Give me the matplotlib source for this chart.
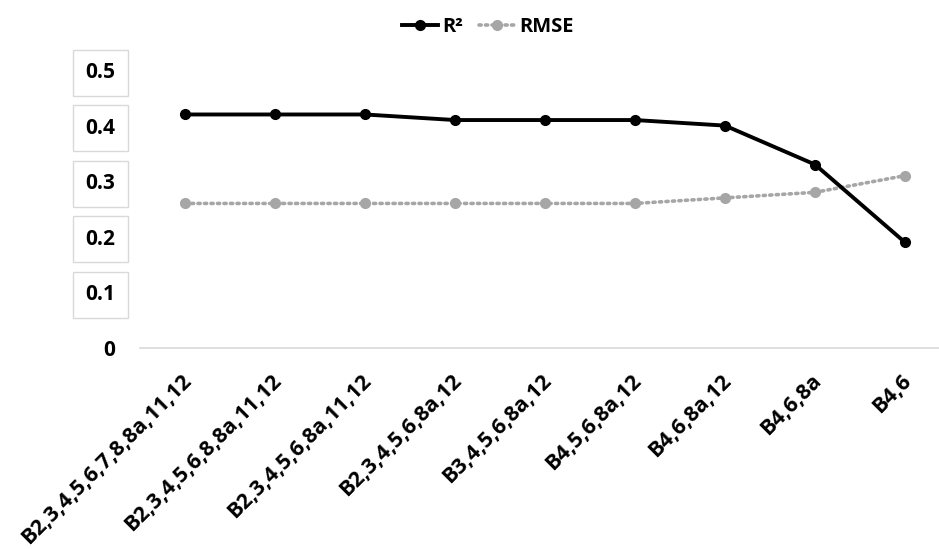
import matplotlib
matplotlib.use("Agg")
import matplotlib.pyplot as plt
from matplotlib.transforms import ScaledTranslation

plt.rcParams['font.family'] = ['Open Sans', 'DejaVu Sans']

categories = ["B2,3,4,5,6,7,8,8a,11,12", "B2,3,4,5,6,8,8a,11,12", "B2,3,4,5,6,8a,11,12",
              "B2,3,4,5,6,8a,12", "B3,4,5,6,8a,12", "B4,5,6,8a,12", "B4,6,8a,12", "B4,6,8a", "B4,6"]
r2 = [0.42, 0.42, 0.42, 0.41, 0.41, 0.41, 0.40, 0.33, 0.19]
rmse = [0.26, 0.26, 0.26, 0.26, 0.26, 0.26, 0.27, 0.28, 0.31]
yticks = [0, 0.1, 0.2, 0.3, 0.4, 0.5]
ytick_labels = ["0", "0.1", "0.2", "0.3", "0.4", "0.5"]

W, H = 939, 549
fig = plt.figure(figsize=(W/100, H/100), dpi=100)
left, right, bottom, top = 140, 950, 348, 70
ax = fig.add_axes([left/W, 1-bottom/H, (right-left)/W, (bottom-top)/H])

x = list(range(len(categories)))
ax.plot(x, rmse, color='#a6a6a6', lw=2.6, ls=(0, (0.6, 1.2)), dash_capstyle='round',
        marker='o', ms=7, label='RMSE', zorder=2)
ax.plot(x, r2, color='black', lw=2.8, marker='o', ms=7, label='R²', zorder=3)

ax.set_xlim(-0.5, len(categories)-0.5)
ax.set_ylim(0, 0.5)
ax.set_yticks(yticks)
ax.set_yticklabels(ytick_labels, fontsize=15, fontweight='bold')
ax.tick_params(axis='y', length=0, pad=18)
for lab in ax.get_yticklabels():
    if lab.get_text() != "0":
        lab.set_bbox(dict(boxstyle='square,pad=0.6', fc='white', ec='#d9d9d9', lw=1))
ax.set_xticks(x)
ax.set_xticklabels(categories, rotation=45, ha='right', va='top', rotation_mode='anchor',
                   fontsize=15.5, fontweight='bold')
ax.tick_params(axis='x', length=0, pad=16)
for lab in ax.get_xticklabels():
    lab.set_transform(lab.get_transform() + ScaledTranslation(-4/100, 0, fig.dpi_scale_trans))
for s in ['top', 'right', 'left']:
    ax.spines[s].set_visible(False)
ax.spines['bottom'].set_color('#d9d9d9')
ax.spines['bottom'].set_linewidth(1.2)

handles, labels = ax.get_legend_handles_labels()
leg = fig.legend(handles[::-1], labels[::-1], loc='center', bbox_to_anchor=(488/W, 1-27/H), ncol=2,
                 frameon=False, prop={'weight': 'bold', 'size': 14.5}, handlelength=1.8,
                 handletextpad=0.2, columnspacing=0.8)

fig.savefig('out.png', dpi=100)
